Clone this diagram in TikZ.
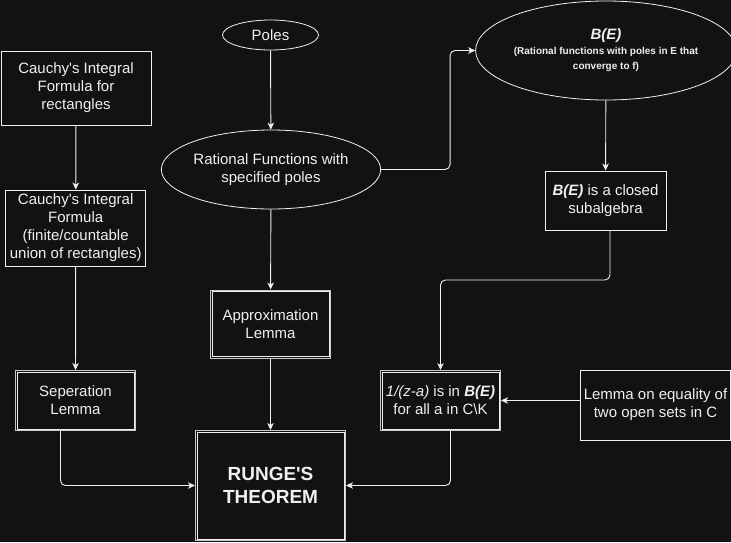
\documentclass[tikz,border=0pt]{standalone}
\usepackage{fontspec}
\setmainfont{Liberation Sans}
\usetikzlibrary{shapes.geometric,arrows.meta}
\definecolor{bg}{HTML}{121212}
\definecolor{fg}{HTML}{F0F0F0}
\definecolor{fg2}{HTML}{C8C8C8}
\newcommand{\sq}{\textquotesingle}
\begin{document}
\begin{tikzpicture}[x=1pt,y=-1pt,
  box/.style={draw=fg, fill=bg, line width=0.9pt, text=fg, align=center, inner sep=0pt,
    font=\fontsize{15}{18}\selectfont},
  dbox/.style={box, draw=fg2, line width=1pt},
  inner/.style={draw=fg, line width=1pt},
  oval/.style={ellipse, draw=fg, fill=bg, line width=0.8pt, text=fg, align=center, inner sep=0pt,
    font=\fontsize{15}{18}\selectfont},
  arr/.style={draw=fg, line width=0.9pt, -{Stealth[length=7pt,width=6.5pt,inset=2pt]}, rounded corners=5pt}]
\fill[bg] (0,0) rectangle (731,542);
\useasboundingbox (0,0) rectangle (731,542);

\node[box, minimum width=150pt, minimum height=74pt] (c1) at (76,88) {Cauchy\sq s Integral\\Formula for\\rectangles};
\node[box, minimum width=140pt, minimum height=76pt] (c2) at (75.7,228) {Cauchy\sq s Integral\\Formula\\(finite/countable\\union of rectangles)};
\node[dbox, minimum width=120pt, minimum height=60pt] (sep) at (75.5,400.5) {Seperation\\Lemma};
\node[oval, minimum width=96pt, minimum height=30pt] (poles) at (270.5,35) {Poles};
\node[oval, minimum width=180pt, minimum height=79pt] (rat) at (271,169.5) {Rational Functions with\\specified poles};
\node[dbox, minimum width=120pt, minimum height=68pt] (appr) at (270.5,324) {Approximation\\Lemma};
\node[dbox, minimum width=150pt, minimum height=110pt, font=\fontsize{19}{22.5}\selectfont\bfseries] (runge) at (270.5,485.5) {RUNGE\sq S\\THEOREM};
\node[oval, minimum width=210pt, minimum height=99pt, font=\fontsize{10}{15}\selectfont] (be) at (606,50.5)
  {{\fontsize{15}{15}\selectfont\bfseries\itshape B(E)}\\{\bfseries (Rational functions with poles in E that}\\{\bfseries converge to f)}};
\node[box, minimum width=121pt, minimum height=59pt] (sub) at (605.5,200.5) {{\bfseries\itshape B(E)} is a closed\\subalgebra};
\node[dbox, minimum width=120pt, minimum height=60pt] (zfn) at (440.5,400.5) {{\itshape 1/(z-a)} is in {\bfseries\itshape B(E)}\\for all a in C\textbackslash K};
\node[box, minimum width=150pt, minimum height=70pt] (lem) at (655.5,405) {Lemma on equality of\\two open sets in C};

\foreach \n in {sep,appr,runge,zfn}
  \draw[inner] ([shift={(2,2)}]\n.north west) rectangle ([shift={(-2,-2)}]\n.south east);

\draw[arr] (c1) -- (c2);
\draw[arr] (c2) -- (sep);
\draw[arr] ([xshift=-15pt]sep.south) |- (runge.west);
\draw[arr] (poles) -- (rat);
\draw[arr] (rat) -- (appr);
\draw[arr] (appr) -- (runge);
\draw[arr] (rat.east) -- ++(69,0) |- (be.west);
\draw[arr] (be) -- (sub);
\draw[arr] ([xshift=4.5pt]sub.south) -- ++(0,49.5) -| (zfn.north);
\draw[arr] (lem.west |- zfn.east) -- (zfn.east);
\draw[arr] ([xshift=10pt]zfn.south) |- (runge.east);
\end{tikzpicture}
\end{document}
